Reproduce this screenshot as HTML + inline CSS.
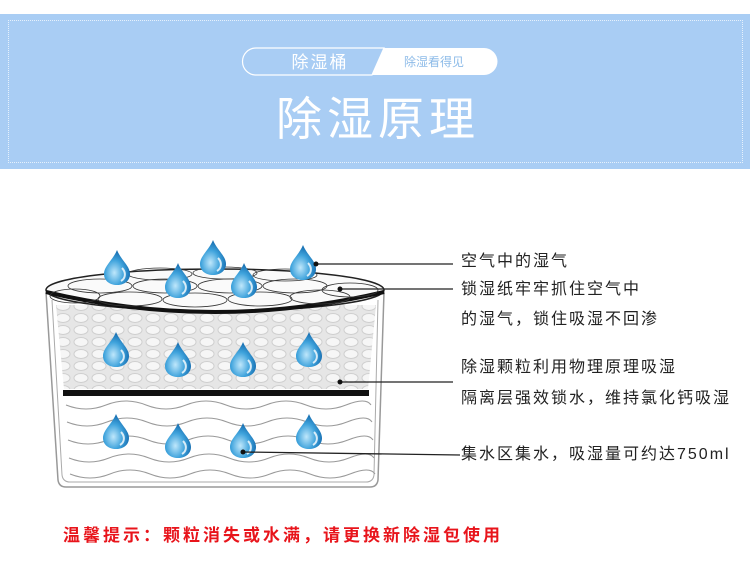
<!DOCTYPE html>
<html><head><meta charset="utf-8"><style>
body{margin:0;width:750px;height:588px;background:#fff;position:relative;overflow:hidden;font-family:"Liberation Sans","Noto Sans CJK SC",sans-serif}
.ban{position:absolute;left:0;top:14px;width:750px;height:155px;background:#a9cdf4}
.dot{position:absolute;left:8px;top:6px;width:733px;height:141px;border:1px dotted #e6f1fc}
.lab{position:absolute;left:461px;font-size:16px;letter-spacing:2px;color:#222;line-height:20px;white-space:nowrap}
</style></head><body>
<div class="ban"><div class="dot"></div></div>
<svg style="position:absolute;left:0;top:0" width="750" height="588">
<defs>
<radialGradient id="dg" cx="0.4" cy="0.65" r="0.6"><stop offset="0" stop-color="#bfe7fb"/><stop offset="0.6" stop-color="#3fa3dc"/><stop offset="1" stop-color="#1a72b4"/></radialGradient>
<pattern id="hx" width="18" height="12" patternUnits="userSpaceOnUse"><rect width="18" height="12" fill="#e6e6e6"/><ellipse cx="9" cy="6" rx="7" ry="4.5" fill="#f6f6f6" stroke="#cfcfcf" stroke-width="1"/></pattern>
<g id="drop"><path d="M0,-18 C4,-8 13,-2 13,6 C13,13 7,17 0,17 C-7,17 -13,13 -13,6 C-13,-2 -4,-8 0,-18Z" fill="url(#dg)"/><path d="M5,0 C9,4 9,10 4,13" stroke="#fff" stroke-width="2" fill="none" opacity="0.8"/></g>
</defs>
<path d="M256,48 L384,48 L372,75 L256,75 A13.5,13.5 0 0 1 256,48Z" fill="none" stroke="#fff" stroke-width="1.2"/>
<path d="M384,48 L484,48 A13.5,13.5 0 0 1 484,75 L372,75Z" fill="#fff"/>
<text x="320" y="68" fill="#fff" font-size="17" text-anchor="middle" letter-spacing="2">除湿桶</text>
<text x="434" y="66" fill="#8dbbe8" font-size="12" text-anchor="middle">除湿看得见</text>
<text x="378" y="135" fill="#fff" font-size="46" text-anchor="middle" letter-spacing="5">除湿原理</text>
<path d="M46,292 L58,480 Q59,487 66,487 L370,487 Q377,487 378,480 L384,292" fill="#fff" stroke="#999" stroke-width="1.5"/>
<path d="M52,300 L62,475 Q63,482 70,482 L366,482 Q373,482 374,475 L378,300" fill="none" stroke="#aaa" stroke-width="1"/>
<path d="M56,305 L64,389 L368,389 L376,305Z" fill="url(#hx)"/>
<rect x="63" y="390" width="306" height="6" fill="#111"/>
<g fill="none" stroke="#999" stroke-width="1">
<path d="M66,405 q20,8 40,0 t40,0 t40,0 t40,0 t40,0 t40,0 t40,0 t25,0"/>
<path d="M67,422 q20,8 40,0 t40,0 t40,0 t40,0 t40,0 t40,0 t40,0 t25,0"/>
<path d="M68,440 q20,8 40,0 t40,0 t40,0 t40,0 t40,0 t40,0 t40,0 t25,0"/>
<path d="M69,458 q20,8 40,0 t40,0 t40,0 t40,0 t40,0 t40,0 t40,0 t25,0"/>
<path d="M70,474 q20,8 40,0 t40,0 t40,0 t40,0 t40,0 t40,0 t40,0 t25,0"/>
</g>
<ellipse cx="215" cy="290" rx="169" ry="21" fill="#fafafa" stroke="#222" stroke-width="1.5"/>
<path d="M46,292 Q215,332 384,292" fill="none" stroke="#111" stroke-width="4"/>
<g fill="none" stroke="#333" stroke-width="0.8">
<ellipse cx="100" cy="286" rx="32" ry="7"/><ellipse cx="165" cy="286" rx="32" ry="7"/><ellipse cx="230" cy="286" rx="32" ry="7"/><ellipse cx="295" cy="286" rx="32" ry="7"/><ellipse cx="350" cy="290" rx="28" ry="7"/>
<ellipse cx="130" cy="299" rx="32" ry="7"/><ellipse cx="195" cy="300" rx="32" ry="7"/><ellipse cx="260" cy="299" rx="32" ry="7"/><ellipse cx="320" cy="297" rx="30" ry="7"/><ellipse cx="75" cy="296" rx="25" ry="7"/>
<ellipse cx="160" cy="274" rx="32" ry="6"/><ellipse cx="225" cy="273" rx="32" ry="6"/><ellipse cx="285" cy="275" rx="32" ry="6"/>
</g>
<use href="#drop" x="117" y="268"/><use href="#drop" x="213" y="258"/><use href="#drop" x="303" y="263"/><use href="#drop" x="178" y="281"/><use href="#drop" x="244" y="281"/>
<use href="#drop" x="116" y="350"/><use href="#drop" x="178" y="360"/><use href="#drop" x="243" y="360"/><use href="#drop" x="309" y="350"/>
<use href="#drop" x="116" y="432"/><use href="#drop" x="178" y="441"/><use href="#drop" x="243" y="441"/><use href="#drop" x="309" y="432"/>
<g stroke="#222" stroke-width="1.3">
<line x1="316" y1="264" x2="453" y2="264"/><line x1="340" y1="289" x2="453" y2="289"/><line x1="340" y1="382" x2="453" y2="382"/><line x1="243" y1="452" x2="460" y2="455"/>
</g>
<g fill="#111"><circle cx="316" cy="264" r="2.5"/><circle cx="340" cy="289" r="2.5"/><circle cx="340" cy="382" r="2.5"/><circle cx="243" cy="452" r="2.5"/></g>
</svg>
<div class="lab" style="top:252px">空气中的湿气</div>
<div class="lab" style="top:280px">锁湿纸牢牢抓住空气中</div>
<div class="lab" style="top:310px">的湿气，锁住吸湿不回渗</div>
<div class="lab" style="top:358px">除湿颗粒利用物理原理吸湿</div>
<div class="lab" style="top:389px">隔离层强效锁水，维持氯化钙吸湿</div>
<div class="lab" style="top:445px">集水区集水，吸湿量可约达750ml</div>
<div style="position:absolute;left:63px;top:521px;font-size:17px;font-weight:bold;color:#e8141b;letter-spacing:3px;white-space:nowrap">温馨提示：颗粒消失或水满，请更换新除湿包使用</div>
</body></html>
